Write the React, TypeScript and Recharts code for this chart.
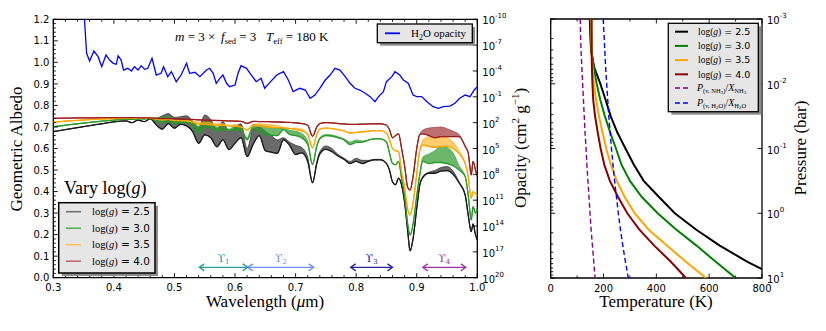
import React from 'react'
import { ComposedChart, Line, Area, XAxis, YAxis, ReferenceArea, ReferenceDot } from 'recharts'

const SERIF = '"Liberation Serif", "Times New Roman", serif'
const SANS = '"DejaVu Sans", Verdana, sans-serif'

// ---------- left panel: geometric albedo spectra ----------
const wavelength = [
  0.30, 0.32, 0.34, 0.36, 0.38, 0.40, 0.42, 0.43, 0.44, 0.45, 0.46, 0.47, 0.48, 0.49, 0.50,
  0.51, 0.52, 0.53, 0.54, 0.55, 0.56, 0.57, 0.58, 0.59, 0.60, 0.61, 0.62, 0.63, 0.64, 0.65,
  0.66, 0.67, 0.68, 0.69, 0.70, 0.71, 0.72, 0.728, 0.735, 0.74, 0.75, 0.76, 0.77, 0.78, 0.79,
  0.80, 0.81, 0.82, 0.83, 0.84, 0.85, 0.855, 0.86, 0.865, 0.87, 0.875, 0.88, 0.885, 0.889, 0.894,
  0.90, 0.905, 0.91, 0.92, 0.93, 0.94, 0.95, 0.96, 0.97, 0.98, 0.985, 0.99, 0.993, 0.997, 1.00,
]
const albedo25 = [
  0.678, 0.688, 0.697, 0.706, 0.715, 0.724, 0.728, 0.720, 0.732, 0.725, 0.738, 0.709, 0.690, 0.716, 0.694,
  0.712, 0.705, 0.678, 0.624, 0.663, 0.650, 0.608, 0.640, 0.595, 0.624, 0.650, 0.562, 0.620, 0.660, 0.590,
  0.583, 0.578, 0.640, 0.615, 0.572, 0.580, 0.540, 0.440, 0.530, 0.575, 0.596, 0.585, 0.565, 0.550, 0.530,
  0.540, 0.530, 0.540, 0.547, 0.547, 0.530, 0.500, 0.445, 0.432, 0.462, 0.430, 0.350, 0.220, 0.125, 0.183,
  0.322, 0.430, 0.465, 0.485, 0.485, 0.495, 0.497, 0.480, 0.440, 0.384, 0.291, 0.214, 0.250, 0.200, 0.175,
]
const albedo25Top = [
  0.678, 0.688, 0.697, 0.706, 0.715, 0.724, 0.728, 0.720, 0.732, 0.725, 0.738, 0.740, 0.752, 0.762, 0.745,
  0.748, 0.752, 0.728, 0.700, 0.756, 0.735, 0.690, 0.725, 0.680, 0.700, 0.715, 0.600, 0.690, 0.700, 0.680,
  0.660, 0.640, 0.650, 0.630, 0.615, 0.605, 0.560, 0.445, 0.540, 0.585, 0.612, 0.600, 0.572, 0.555, 0.540,
  0.555, 0.545, 0.545, 0.550, 0.550, 0.532, 0.500, 0.445, 0.432, 0.462, 0.430, 0.350, 0.220, 0.125, 0.183,
  0.322, 0.430, 0.470, 0.490, 0.498, 0.512, 0.516, 0.495, 0.445, 0.384, 0.291, 0.214, 0.250, 0.200, 0.175,
]
const albedo30 = [
  0.701, 0.708, 0.715, 0.721, 0.727, 0.732, 0.736, 0.735, 0.738, 0.737, 0.740, 0.727, 0.717, 0.728, 0.715,
  0.722, 0.720, 0.705, 0.671, 0.700, 0.695, 0.680, 0.690, 0.685, 0.685, 0.685, 0.640, 0.695, 0.680, 0.665,
  0.662, 0.660, 0.688, 0.665, 0.660, 0.650, 0.620, 0.525, 0.610, 0.645, 0.660, 0.658, 0.650, 0.640, 0.618,
  0.628, 0.630, 0.638, 0.645, 0.645, 0.630, 0.580, 0.530, 0.525, 0.540, 0.462, 0.380, 0.250, 0.198, 0.250,
  0.380, 0.477, 0.540, 0.530, 0.535, 0.535, 0.530, 0.520, 0.500, 0.470, 0.384, 0.268, 0.330, 0.300, 0.320,
]
const albedo30Top = [
  0.701, 0.708, 0.715, 0.721, 0.727, 0.732, 0.736, 0.735, 0.738, 0.737, 0.740, 0.742, 0.745, 0.748, 0.735,
  0.738, 0.735, 0.725, 0.700, 0.725, 0.715, 0.700, 0.705, 0.690, 0.705, 0.698, 0.650, 0.712, 0.708, 0.705,
  0.700, 0.695, 0.695, 0.685, 0.680, 0.670, 0.635, 0.530, 0.615, 0.650, 0.665, 0.663, 0.655, 0.645, 0.630,
  0.640, 0.635, 0.640, 0.645, 0.645, 0.630, 0.580, 0.530, 0.525, 0.540, 0.462, 0.380, 0.250, 0.198, 0.250,
  0.380, 0.477, 0.560, 0.575, 0.590, 0.610, 0.605, 0.580, 0.520, 0.470, 0.384, 0.268, 0.330, 0.300, 0.320,
]
const albedo35 = [
  0.722, 0.727, 0.731, 0.734, 0.737, 0.739, 0.740, 0.740, 0.741, 0.741, 0.741, 0.736, 0.733, 0.735, 0.730,
  0.730, 0.728, 0.722, 0.712, 0.712, 0.710, 0.707, 0.708, 0.705, 0.703, 0.700, 0.686, 0.707, 0.705, 0.700,
  0.698, 0.697, 0.697, 0.693, 0.688, 0.682, 0.665, 0.603, 0.665, 0.690, 0.695, 0.692, 0.688, 0.682, 0.672,
  0.675, 0.677, 0.680, 0.683, 0.683, 0.672, 0.640, 0.600, 0.590, 0.585, 0.492, 0.420, 0.320, 0.291, 0.350,
  0.480, 0.590, 0.615, 0.610, 0.605, 0.610, 0.610, 0.600, 0.575, 0.530, 0.470, 0.369, 0.400, 0.390, 0.380,
]
const albedo35Top = [
  0.722, 0.727, 0.731, 0.734, 0.737, 0.739, 0.740, 0.740, 0.741, 0.741, 0.741, 0.736, 0.733, 0.735, 0.730,
  0.730, 0.728, 0.728, 0.722, 0.722, 0.720, 0.715, 0.715, 0.705, 0.712, 0.700, 0.686, 0.712, 0.715, 0.713,
  0.710, 0.708, 0.697, 0.693, 0.695, 0.690, 0.665, 0.603, 0.665, 0.690, 0.695, 0.692, 0.688, 0.682, 0.672,
  0.675, 0.677, 0.680, 0.683, 0.683, 0.672, 0.640, 0.600, 0.590, 0.585, 0.492, 0.420, 0.320, 0.291, 0.350,
  0.480, 0.590, 0.640, 0.655, 0.650, 0.655, 0.650, 0.630, 0.590, 0.530, 0.470, 0.369, 0.400, 0.390, 0.380,
]
const albedo40 = [
  0.740, 0.741, 0.742, 0.742, 0.743, 0.743, 0.743, 0.743, 0.743, 0.742, 0.742, 0.740, 0.739, 0.739, 0.738,
  0.737, 0.736, 0.735, 0.733, 0.732, 0.731, 0.730, 0.729, 0.728, 0.727, 0.726, 0.716, 0.726, 0.725, 0.725,
  0.724, 0.723, 0.722, 0.721, 0.719, 0.716, 0.708, 0.657, 0.700, 0.716, 0.720, 0.719, 0.716, 0.714, 0.712,
  0.712, 0.713, 0.714, 0.715, 0.715, 0.708, 0.688, 0.650, 0.660, 0.668, 0.600, 0.520, 0.420, 0.407, 0.470,
  0.600, 0.665, 0.668, 0.660, 0.650, 0.655, 0.655, 0.655, 0.655, 0.610, 0.580, 0.477, 0.540, 0.500, 0.470,
]
const albedo40Top = [
  0.740, 0.741, 0.742, 0.742, 0.743, 0.743, 0.743, 0.743, 0.743, 0.742, 0.742, 0.740, 0.739, 0.739, 0.738,
  0.737, 0.736, 0.735, 0.733, 0.732, 0.731, 0.730, 0.729, 0.728, 0.727, 0.726, 0.716, 0.726, 0.725, 0.725,
  0.724, 0.723, 0.722, 0.721, 0.719, 0.716, 0.708, 0.657, 0.700, 0.716, 0.720, 0.719, 0.716, 0.714, 0.712,
  0.712, 0.713, 0.714, 0.715, 0.715, 0.708, 0.688, 0.650, 0.660, 0.668, 0.600, 0.520, 0.420, 0.407, 0.470,
  0.600, 0.665, 0.685, 0.695, 0.698, 0.700, 0.692, 0.680, 0.665, 0.610, 0.580, 0.477, 0.540, 0.500, 0.470,
]

// H2O opacity (log10 of cm^2/g), read against the right-hand axis
const h2oWavelength = [
  0.347, 0.351, 0.355, 0.360, 0.367, 0.374, 0.380, 0.387, 0.393, 0.399, 0.404, 0.407, 0.412, 0.416, 0.423,
  0.429, 0.434, 0.440, 0.445, 0.451, 0.456, 0.463, 0.470, 0.478, 0.482, 0.489, 0.495, 0.503, 0.511, 0.520,
  0.525, 0.534, 0.542, 0.553, 0.558, 0.564, 0.569, 0.575, 0.580, 0.586, 0.591, 0.600, 0.605, 0.610, 0.619,
  0.627, 0.635, 0.643, 0.649, 0.658, 0.669, 0.680, 0.688, 0.696, 0.707, 0.716, 0.724, 0.732, 0.740, 0.749,
  0.757, 0.765, 0.773, 0.782, 0.790, 0.798, 0.806, 0.815, 0.823, 0.831, 0.837, 0.845, 0.850, 0.859, 0.864,
  0.872, 0.878, 0.886, 0.894, 0.900, 0.908, 0.917, 0.927, 0.936, 0.944, 0.955, 0.963, 0.971, 0.980, 0.988,
  0.995, 1.000,
]
const h2oLogOpacity = [
  -12.0, -10.5, -6.05, -5.16, -6.32, -5.66, -4.50, -5.86, -5.27, -4.89, -4.78, -5.77, -5.27, -4.11, -4.31,
  -4.00, -4.50, -4.11, -4.61, -4.19, -4.31, -5.47, -3.53, -3.73, -4.50, -3.34, -3.92, -2.76, -3.53, -4.89,
  -3.73, -3.85, -3.34, -4.11, -4.31, -3.73, -2.57, -3.15, -3.53, -2.57, -2.18, -2.37, -3.73, -4.61, -4.31,
  -3.53, -2.76, -3.15, -1.99, -2.70, -3.53, -3.92, -2.95, -1.60, -1.99, -1.79, -0.83, -1.21, -1.99, -2.95,
  -3.53, -4.31, -4.11, -3.34, -2.57, -1.99, -1.79, -1.41, -1.02, -0.43, -1.02, -1.60, -2.76, -3.34, -3.92,
  -3.53, -2.95, -2.57, -1.21, -1.02, -1.02, -0.43, 0.15, 0.33, 0.15, 0.07, -0.25, -0.83, -1.21, -1.02,
  -1.79, -2.18,
]

// photometric bands marked along the bottom
const upsilonLabels = ['1', '2', '3', '4']
const upsilonStart = [0.541, 0.621, 0.791, 0.910]
const upsilonEnd = [0.621, 0.730, 0.860, 0.981]
const upsilonColors = ['#2f9c98', '#6e8ff0', '#26269a', '#9c38a6']

const wavelengthMajor = [0.3, 0.4, 0.5, 0.6, 0.7, 0.8, 0.9, 1.0]
const albedoMajor = [0, 0.1, 0.2, 0.3, 0.4, 0.5, 0.6, 0.7, 0.8, 0.9, 1.0, 1.1, 1.2]
const opacityExponents = [-10, -7, -4, -1, 2, 5, 8, 11, 14, 17, 20]

// ---------- right panel: T-P profiles ----------
const pressure = [
  0.001, 0.00178, 0.00316, 0.00562, 0.01, 0.0178, 0.0316, 0.0562, 0.1, 0.178, 0.316, 0.562, 1, 1.78,
  3.16, 5.62, 10,
]
const tempLogg25 = [148, 150, 153, 165, 188, 208, 227, 252, 283, 315, 352, 410, 470, 550, 640, 745, 865]
const tempLogg30 = [151, 153, 155, 163, 174, 188, 205, 225, 247, 268, 300, 345, 405, 475, 552, 625, 700]
const tempLogg35 = [153, 154, 155, 158, 163, 172, 183, 196, 210, 228, 250, 280, 318, 370, 440, 512, 588]
const tempLogg40 = [155, 155, 155, 156, 158, 161, 168, 178, 189, 203, 224, 255, 290, 335, 392, 455, 512]
const tempNH3Cond = [112, 113, 115, 118, 121, 124, 127, 130, 134, 137, 141, 145, 149, 153, 158, 163, 168]
const tempH2OCond = [199, 202, 205, 208, 212, 216, 220, 225, 230, 236, 242, 249, 256, 264, 273, 283, 294]

const tempMajor = [0, 200, 400, 600, 800]
const tempMinor = [100, 300, 500, 700]
const pressureMajor = [0.001, 0.01, 0.1, 1, 10]

// ---------- geometry ----------
const L_PLOT_H = 258.4
const R_PLOT_W = 211.3
const R_PLOT_H = 259

const steps = (from: number, to: number, step: number) => {
  const out: number[] = []
  for (let v = from; v <= to + step / 2; v += step) out.push(Math.round(v * 1000) / 1000)
  return out
}
const isIn = (v: number, list: number[]) => list.some(m => Math.abs(v - m) < 1e-6)

const wavelengthTicks = steps(0.3, 1.0, 0.02)
const albedoTicks = steps(0, 1.2, 0.02)
const pressureTicks: number[] = []
pressureMajor.slice(0, 4).forEach(d => {
  for (let k = 1; k <= 9; k++) pressureTicks.push(+(d * k).toPrecision(3))
})
pressureTicks.push(10)

const specRows = wavelength.map((w, i) => ({
  w,
  g25: albedo25[i],
  b25: [albedo25[i], albedo25Top[i]],
  g30: albedo30[i],
  b30: [albedo30[i], albedo30Top[i]],
  g35: albedo35[i],
  b35: [albedo35[i], albedo35Top[i]],
  g40: albedo40[i],
  b40: [albedo40[i], albedo40Top[i]],
}))
const h2oRows = h2oWavelength.map((w, i) => ({ w, op: h2oLogOpacity[i] }))
const upsilonRows = upsilonStart.map((s, i) => [
  { w: s, a: 0.048 },
  { w: upsilonEnd[i], a: 0.048 },
])

const profile = (temps: number[]) => temps.map((T, i) => ({ T, P: pressure[i] }))

// ---------- tick renderers (ticks drawn inward like matplotlib) ----------
const WaveTick = (props: any) => {
  const { x, y, payload } = props
  const major = isIn(payload.value, wavelengthMajor)
  const len = major ? 4.5 : 2.5
  return (
    <g>
      <line x1={x} x2={x} y1={y} y2={y - len} stroke="#000" strokeWidth={0.9} />
      <line x1={x} x2={x} y1={y - L_PLOT_H} y2={y - L_PLOT_H + len} stroke="#000" strokeWidth={0.9} />
      {major && (
        <text x={x} y={y + 13.5} textAnchor="middle" fontSize={10} fontFamily={SANS} fill="#000">
          {payload.value.toFixed(1)}
        </text>
      )}
    </g>
  )
}

const AlbedoTick = (props: any) => {
  const { x, y, payload } = props
  const major = isIn(payload.value, albedoMajor)
  return (
    <g>
      <line x1={x} x2={x + (major ? 4.5 : 2.5)} y1={y} y2={y} stroke="#000" strokeWidth={0.9} />
      {major && (
        <text x={x - 4} y={y + 3.6} textAnchor="end" fontSize={10} fontFamily={SANS} fill="#000">
          {payload.value.toFixed(1)}
        </text>
      )}
    </g>
  )
}

const OpacityTick = (props: any) => {
  const { x, y, payload } = props
  return (
    <g>
      <line x1={x} x2={x - 4.5} y1={y} y2={y} stroke="#000" strokeWidth={0.9} />
      <text x={x + 5} y={y + 5} fontSize={10} fontFamily={SANS} fill="#000">
        10
        <tspan dy={-6} fontSize={7}>{payload.value}</tspan>
      </text>
    </g>
  )
}

const TempTick = (props: any) => {
  const { x, y, payload } = props
  const major = isIn(payload.value, tempMajor)
  const len = major ? 4.5 : 2.5
  return (
    <g>
      <line x1={x} x2={x} y1={y} y2={y - len} stroke="#000" strokeWidth={0.9} />
      <line x1={x} x2={x} y1={y - R_PLOT_H} y2={y - R_PLOT_H + len} stroke="#000" strokeWidth={0.9} />
      {major && (
        <text x={x} y={y + 13.5} textAnchor="middle" fontSize={10} fontFamily={SANS} fill="#000">
          {payload.value}
        </text>
      )}
    </g>
  )
}

const PressureTick = (props: any) => {
  const { x, y, payload } = props
  const major = pressureMajor.some(m => Math.abs(Math.log10(m) - Math.log10(payload.value)) < 1e-6)
  const exp = Math.round(Math.log10(payload.value))
  return (
    <g>
      <line x1={x - R_PLOT_W} x2={x - R_PLOT_W + (major ? 4.5 : 2.5)} y1={y} y2={y} stroke="#000" strokeWidth={0.9} />
      {major && <line x1={x} x2={x - 4.5} y1={y} y2={y} stroke="#000" strokeWidth={0.9} />}
      {major && (
        <text x={x + 5} y={y + 5} fontSize={10} fontFamily={SANS} fill="#000">
          10
          <tspan dy={-6} fontSize={7}>{exp}</tspan>
        </text>
      )}
    </g>
  )
}

const arrowDot = (color: string) => (p: any) => {
  const { cx, cy, index } = p
  const d = index === 0 ? 1 : -1
  return (
    <polyline
      key={`a${index}`}
      points={`${cx + 5 * d},${cy - 3.5} ${cx},${cy} ${cx + 5 * d},${cy + 3.5}`}
      fill="none"
      stroke={color}
      strokeWidth={1.3}
    />
  )
}

const upsilonShape = (i: number) => (p: any) => (
  <text x={p.cx} y={p.cy + 4} textAnchor="middle" fontSize={11} fontFamily='"DejaVu Serif", serif' fill={upsilonColors[i]}>
    ϒ<tspan dy={2} fontSize={7}>{upsilonLabels[i]}</tspan>
  </text>
)

const bands = [
  { key: 'b25', line: 'g25', fill: '#505050', fillOpacity: 0.85, stroke: '#1a1a1a' },
  { key: 'b30', line: 'g30', fill: '#2c9a2c', fillOpacity: 0.7, stroke: '#2a9a2a' },
  { key: 'b35', line: 'g35', fill: '#ffb020', fillOpacity: 0.65, stroke: '#ffa500' },
  { key: 'b40', line: 'g40', fill: '#a03535', fillOpacity: 0.7, stroke: '#9b1f1f' },
]

const SpectrumPanel = () => (
  <ComposedChart width={538} height={331} data={specRows} margin={{ top: 19.3, right: 0, bottom: 0, left: 0 }}>
    <XAxis
      dataKey="w"
      type="number"
      domain={[0.3, 1.0]}
      ticks={wavelengthTicks}
      interval={0}
      height={53.3}
      axisLine={false}
      tickLine={false}
      tickSize={0}
      tickMargin={0}
      tick={WaveTick}
    />
    <YAxis
      yAxisId="alb"
      type="number"
      domain={[0, 1.2]}
      ticks={albedoTicks}
      interval={0}
      width={53.3}
      axisLine={false}
      tickLine={false}
      tickSize={0}
      tickMargin={0}
      tick={AlbedoTick}
    />
    <YAxis
      yAxisId="op"
      orientation="right"
      type="number"
      domain={[-10, 20]}
      reversed
      allowDataOverflow
      ticks={opacityExponents}
      interval={0}
      width={60.7}
      axisLine={false}
      tickLine={false}
      tickSize={0}
      tickMargin={0}
      tick={OpacityTick}
    />
    {bands.map(b => [
      <Area
        key={b.key}
        yAxisId="alb"
        type="monotone"
        dataKey={b.key}
        fill={b.fill}
        fillOpacity={b.fillOpacity}
        stroke={b.stroke}
        strokeWidth={0.6}
        isAnimationActive={false}
        activeDot={false}
      />,
      <Line
        key={b.line}
        yAxisId="alb"
        type="monotone"
        dataKey={b.line}
        stroke={b.stroke}
        strokeWidth={1.3}
        dot={false}
        activeDot={false}
        isAnimationActive={false}
      />,
    ])}
    <Line
      yAxisId="op"
      data={h2oRows}
      type="linear"
      dataKey="op"
      stroke="#0000ff"
      strokeWidth={1.3}
      dot={false}
      activeDot={false}
      isAnimationActive={false}
    />
    {upsilonRows.map((rows, i) => (
      <Line
        key={`u${i}`}
        yAxisId="alb"
        data={rows}
        type="linear"
        dataKey="a"
        stroke={upsilonColors[i]}
        strokeWidth={1.3}
        dot={arrowDot(upsilonColors[i])}
        activeDot={false}
        isAnimationActive={false}
      />
    ))}
    {upsilonStart.map((s, i) => (
      <ReferenceDot
        key={`ul${i}`}
        yAxisId="alb"
        x={(s + upsilonEnd[i]) / 2}
        y={0.092}
        r={0}
        shape={upsilonShape(i)}
      />
    ))}
    <ReferenceArea yAxisId="alb" x1={0.3} x2={1.0} y1={0} y2={1.2} fill="none" stroke="#000" strokeWidth={1.3} />
  </ComposedChart>
)

const profiles = [
  { data: profile(tempLogg25), color: '#000000', dash: undefined, width: 2 },
  { data: profile(tempLogg30), color: '#008000', dash: undefined, width: 2 },
  { data: profile(tempLogg35), color: '#ffa500', dash: undefined, width: 2 },
  { data: profile(tempLogg40), color: '#8b0000', dash: undefined, width: 2 },
  { data: profile(tempNH3Cond), color: '#800080', dash: '5 3', width: 1.4 },
  { data: profile(tempH2OCond), color: '#0000ff', dash: '5 3', width: 1.4 },
]

const ProfilePanel = () => (
  <ComposedChart width={289} height={331} margin={{ top: 19, right: 0, bottom: 0, left: 13.7 }}>
    <XAxis
      dataKey="T"
      type="number"
      domain={[0, 800]}
      allowDataOverflow
      ticks={[...tempMajor, ...tempMinor].sort((a, b) => a - b)}
      interval={0}
      height={53}
      axisLine={false}
      tickLine={false}
      tickSize={0}
      tickMargin={0}
      tick={TempTick}
    />
    <YAxis
      orientation="right"
      type="number"
      scale="log"
      domain={[0.001, 10]}
      reversed
      allowDataOverflow
      ticks={pressureTicks}
      interval={0}
      width={64}
      axisLine={false}
      tickLine={false}
      tickSize={0}
      tickMargin={0}
      tick={PressureTick}
    />
    {profiles.map((p, i) => (
      <Line
        key={i}
        data={p.data}
        dataKey="P"
        type="linear"
        stroke={p.color}
        strokeWidth={p.width}
        strokeDasharray={p.dash}
        dot={false}
        activeDot={false}
        isAnimationActive={false}
      />
    ))}
    <ReferenceArea x1={0} x2={800} y1={0.001} y2={10} fill="none" stroke="#000" strokeWidth={1.3} />
  </ComposedChart>
)

const leftLegend = [
  { label: '2.5', color: '#707070' },
  { label: '3.0', color: '#55b455' },
  { label: '3.5', color: '#ffc35c' },
  { label: '4.0', color: '#bf6a6a' },
]
const rightLegend = [
  { label: '2.5', color: '#000000' },
  { label: '3.0', color: '#008000' },
  { label: '3.5', color: '#ffa500' },
  { label: '4.0', color: '#8b0000' },
]

const LogG = ({ value, size }: { value: string; size: number }) => (
  <>
    <tspan fontFamily={SERIF}>log(</tspan>
    <tspan fontFamily={SERIF} fontStyle="italic">g</tspan>
    <tspan fontFamily={SERIF}>)</tspan>
    <tspan fontFamily={SANS} fontSize={size}>{` = ${value}`}</tspan>
  </>
)

const Overlay = () => (
  <svg width={826} height={331} style={{ position: 'absolute', left: 0, top: 0, pointerEvents: 'none' }}>
    {/* axis titles */}
    <text x={18} y={149} transform="rotate(-90 18 149)" textAnchor="middle" dominantBaseline="middle" fontFamily={SERIF} fontSize={17}>
      Geometric Albedo
    </text>
    <text x={265} y={307} textAnchor="middle" fontFamily={SERIF} fontSize={17}>
      Wavelength (<tspan fontStyle="italic">μ</tspan>m)
    </text>
    <text x={522} y={148} transform="rotate(-90 522 148)" textAnchor="middle" dominantBaseline="middle" fontFamily={SERIF} fontSize={17}>
      Opacity (cm<tspan dy={-6} fontSize={11}>2</tspan>
      <tspan dy={6}> g</tspan>
      <tspan dy={-6} fontSize={11}>−1</tspan>
      <tspan dy={6}>)</tspan>
    </text>
    <text x={656} y={307} textAnchor="middle" fontFamily={SERIF} fontSize={17}>
      Temperature (K)
    </text>
    <text x={802} y={148} transform="rotate(-90 802 148)" textAnchor="middle" dominantBaseline="middle" fontFamily={SERIF} fontSize={17}>
      Pressure (bar)
    </text>

    {/* model annotation */}
    <text y={41} fontFamily={SERIF} fontSize={13}>
      <tspan x={175} fontStyle="italic">m</tspan>
      <tspan>{' = 3 ×'}</tspan>
      <tspan x={221} fontStyle="italic">f</tspan>
      <tspan dy={3} fontSize={8.5}>sed</tspan>
      <tspan dy={-3}>{' = 3'}</tspan>
      <tspan x={266} fontStyle="italic">T</tspan>
      <tspan dy={3} fontSize={8.5}>eff</tspan>
      <tspan dy={-3}>{' = 180 K'}</tspan>
    </text>

    {/* H2O opacity legend */}
    <rect x={380} y={27} width={95} height={18.7} fill="#8c8c8c" />
    <rect x={377.3} y={24} width={95} height={18.7} fill="#e6e6e6" stroke="#000" strokeWidth={1.3} />
    <line x1={385} x2={400} y1={33.3} y2={33.3} stroke="#0000ff" strokeWidth={1.8} />
    <text x={411} y={37.3} fontFamily={SERIF} fontSize={11}>
      H<tspan dy={2.5} fontSize={8}>2</tspan>
      <tspan dy={-2.5}>O opacity</tspan>
    </text>

    {/* gravity legend, left panel */}
    <text x={64} y={193.5} fontFamily={SERIF} fontSize={18}>
      Vary log(<tspan fontStyle="italic">g</tspan>)
    </text>
    <rect x={61.7} y={205.7} width={96.3} height={70.3} fill="#8c8c8c" />
    <rect x={58.7} y={202.7} width={96.3} height={70.3} fill="#e6e6e6" stroke="#000" strokeWidth={1.5} />
    {leftLegend.map((r, i) => (
      <g key={r.label}>
        <line x1={66} x2={81} y1={211.7 + i * 16.5} y2={211.7 + i * 16.5} stroke={r.color} strokeWidth={1.6} />
        <text x={92} y={215.4 + i * 16.5} fontSize={10.5}>
          <LogG value={r.label} size={10.5} />
        </text>
      </g>
    ))}

    {/* right panel legend */}
    <rect x={671.3} y={26.3} width={90} height={88.4} fill="#8c8c8c" />
    <rect x={668.3} y={23.3} width={90} height={88.4} fill="#e6e6e6" stroke="#000" strokeWidth={1.3} />
    {rightLegend.map((r, i) => (
      <g key={r.label}>
        <line x1={675} x2={688} y1={31.7 + i * 14.2} y2={31.7 + i * 14.2} stroke={r.color} strokeWidth={2} />
        <text x={698} y={35 + i * 14.2} fontSize={9.5}>
          <LogG value={r.label} size={9.5} />
        </text>
      </g>
    ))}
    <line x1={675} x2={688} y1={88} y2={88} stroke="#800080" strokeWidth={1.4} strokeDasharray="5 3" />
    <text x={697} y={91} fontFamily={SERIF} fontSize={10}>
      <tspan fontStyle="italic">P</tspan>
      <tspan dy={2} fontSize={6.5}>{'(v, NH'}</tspan>
      <tspan dy={1} fontSize={5}>3</tspan>
      <tspan dy={-1} fontSize={6.5}>)</tspan>
      <tspan dy={-2}>/</tspan>
      <tspan fontStyle="italic">X</tspan>
      <tspan dy={2} fontSize={6.5}>NH</tspan>
      <tspan dy={1} fontSize={5}>3</tspan>
    </text>
    <line x1={675} x2={688} y1={103} y2={103} stroke="#0000ff" strokeWidth={1.4} strokeDasharray="5 3" />
    <text x={697} y={106} fontFamily={SERIF} fontSize={10}>
      <tspan fontStyle="italic">P</tspan>
      <tspan dy={2} fontSize={6.5}>{'(v, H'}</tspan>
      <tspan dy={1} fontSize={5}>2</tspan>
      <tspan dy={-1} fontSize={6.5}>O)</tspan>
      <tspan dy={-2}>/</tspan>
      <tspan fontStyle="italic">X</tspan>
      <tspan dy={2} fontSize={6.5}>H</tspan>
      <tspan dy={1} fontSize={5}>2</tspan>
      <tspan dy={-1} fontSize={6.5}>O</tspan>
    </text>
  </svg>
)

export default function App() {
  return (
    <div style={{ position: 'absolute', left: 0, top: 0, width: 826, height: 331, background: '#fff', overflow: 'hidden' }}>
      <div style={{ position: 'absolute', left: 0, top: 0 }}>
        <SpectrumPanel />
      </div>
      <div style={{ position: 'absolute', left: 537, top: 0 }}>
        <ProfilePanel />
      </div>
      <Overlay />
    </div>
  )
}
